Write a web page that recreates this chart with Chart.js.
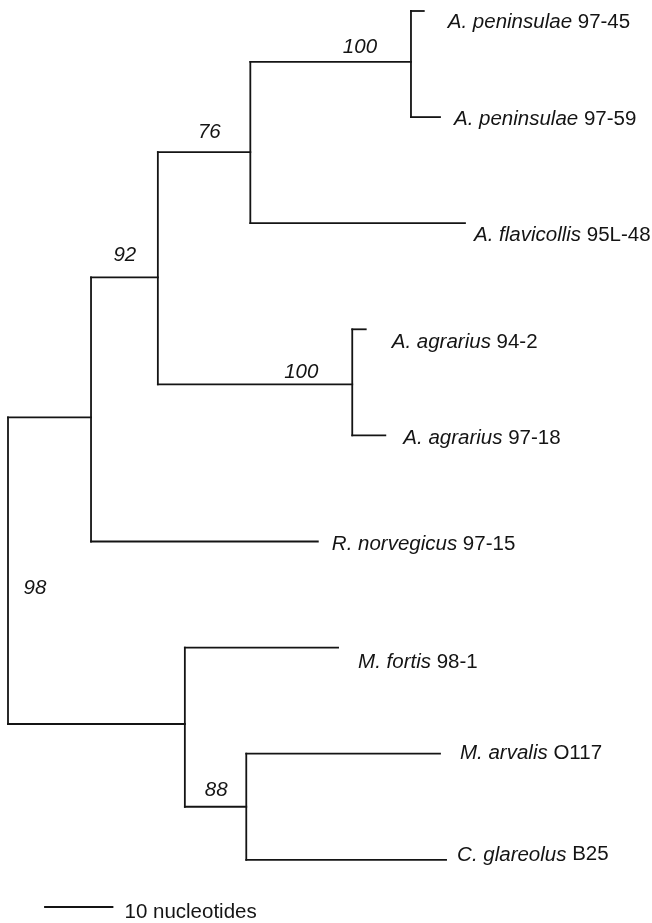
<!DOCTYPE html>
<html lang="en">

<head>
    <meta charset="UTF-8" />
    <title>Phylogenetic tree</title>
    <script src="https://cdn.jsdelivr.net/npm/chart.js@4.4.1/dist/chart.umd.min.js"></script>
    <style>
        body { margin: 0; background: #fff; }
        #wrap { width: 652px; height: 923px; position: relative; }
    </style>
</head>

<body>
    <div id="wrap"><canvas id="chart"></canvas></div>

    <script>
        // tips (one row each, top to bottom)
        const leafGenus = ['A.', 'A.', 'A.', 'A.', 'A.', 'R.', 'M.', 'M.', 'C.'];
        const leafSpecies = ['peninsulae', 'peninsulae', 'flavicollis', 'agrarius', 'agrarius', 'norvegicus', 'fortis', 'arvalis', 'glareolus'];
        const leafStrain = ['97-45', '97-59', '95L-48', '94-2', '97-18', '97-15', '98-1', 'O117', 'B25'];
        const leafDepth = [61.6, 64.0, 67.7, 53.0, 55.9, 45.9, 48.9, 64.0, 64.9]; // nucleotides from root
        const leafParent = ['n100a', 'n100a', 'n76', 'n100b', 'n100b', 'nA', 'nB', 'n88', 'n88'];

        // internal nodes
        const nodeIds = ['root', 'nA', 'n92', 'n76', 'n100a', 'n100b', 'nB', 'n88'];
        const nodeParent = [null, 'root', 'nA', 'n92', 'n76', 'n92', 'root', 'nB'];
        const nodeDepth = [0, 12.3, 22.2, 35.9, 59.7, 51.0, 26.2, 35.3];
        const nodeRow = [5.28, 3.83, 2.51, 1.33, 0.48, 3.52, 6.72, 7.50];
        const nodeSupport = [98, null, 92, 76, 100, 100, null, 88];

        const scaleBarLength = 10;
        const scaleBarLabel = '10 nucleotides';

        // ---- drawing settings ----
        const ink = '#141414';
        const font = '"Liberation Sans", Arial, sans-serif';
        const fontPx = 20.5;
        // pixel nudges for the tip labels [dx, dy]
        const tipNudge = [[24, 11], [14, 2], [9, 12], [26, 13], [18, 3], [14, 3], [20, 15], [20, 0], [11, -5]];
        // pixel offsets for support values, keyed by node
        const supportNudge = { root: [27, 18], n92: [-33, -22], n76: [-41, -20], n100a: [-51, -15], n100b: [-51, -12], n88: [-30, -16] };

        const idx = id => nodeIds.indexOf(id);
        const depthOf = id => nodeDepth[idx(id)];

        // collect the rows of every node's children
        const childRows = {};
        nodeIds.forEach(id => childRows[id] = []);
        leafParent.forEach((p, i) => childRows[p].push(i));
        nodeParent.forEach((p, i) => { if (p) childRows[p].push(nodeRow[i]); });

        const segments = [];
        leafParent.forEach((p, i) => {
            segments.push([{ x: depthOf(p), y: i }, { x: leafDepth[i], y: i }]);
        });
        nodeParent.forEach((p, i) => {
            if (p) segments.push([{ x: depthOf(p), y: nodeRow[i] }, { x: nodeDepth[i], y: nodeRow[i] }]);
        });
        nodeIds.forEach((id, i) => {
            const rows = childRows[id];
            segments.push([{ x: nodeDepth[i], y: Math.min(...rows) }, { x: nodeDepth[i], y: Math.max(...rows) }]);
        });
        // scale bar
        const barX = 5.48, barRow = 8.445;
        segments.push([{ x: barX, y: barRow }, { x: barX + scaleBarLength, y: barRow }]);

        const datasets = segments.map(pts => ({
            data: pts,
            showLine: true,
            borderColor: ink,
            borderWidth: 1.8,
            borderCapStyle: 'square',
            pointRadius: 0,
            fill: false
        }));

        const treeText = {
            id: 'treeText',
            afterDatasetsDraw(chart) {
                const ctx = chart.ctx;
                const xs = chart.scales.x, ys = chart.scales.y;
                ctx.save();
                ctx.fillStyle = ink;
                ctx.textBaseline = 'middle';
                // tip labels: italic binomial, upright strain
                leafSpecies.forEach((sp, i) => {
                    let x = xs.getPixelForValue(leafDepth[i]) + tipNudge[i][0];
                    const y = ys.getPixelForValue(i) + tipNudge[i][1];
                    ctx.font = 'italic ' + fontPx + 'px ' + font;
                    const name = leafGenus[i] + ' ' + sp;
                    ctx.fillText(name, x, y);
                    x += ctx.measureText(name + ' ').width;
                    ctx.font = fontPx + 'px ' + font;
                    ctx.fillText(leafStrain[i], x, y);
                });
                // bootstrap values
                ctx.font = 'italic ' + fontPx + 'px ' + font;
                ctx.textAlign = 'center';
                nodeIds.forEach((id, i) => {
                    if (nodeSupport[i] == null) return;
                    const off = supportNudge[id];
                    let y = ys.getPixelForValue(nodeRow[i]);
                    if (id === 'root') {
                        const rows = childRows[id];
                        y = ys.getPixelForValue((Math.min(...rows) + Math.max(...rows)) / 2);
                    }
                    ctx.fillText(String(nodeSupport[i]), xs.getPixelForValue(nodeDepth[i]) + off[0], y + off[1]);
                });
                // scale bar label
                ctx.font = fontPx + 'px ' + font;
                ctx.textAlign = 'left';
                ctx.fillText(scaleBarLabel, xs.getPixelForValue(barX + scaleBarLength) + 12, ys.getPixelForValue(barRow) + 5);
                ctx.restore();
            }
        };

        new Chart(document.getElementById('chart'), {
            type: 'scatter',
            data: { datasets },
            options: {
                responsive: true,
                maintainAspectRatio: false,
                animation: false,
                layout: { padding: 0 },
                plugins: { legend: { display: false }, tooltip: { enabled: false } },
                scales: {
                    x: { type: 'linear', display: false, min: -8 / 6.75, max: 644 / 6.75 },
                    y: { type: 'linear', display: false, reverse: true, min: -11 / 106.1, max: 912 / 106.1 }
                }
            },
            plugins: [treeText]
        });
    </script>
</body>

</html>
